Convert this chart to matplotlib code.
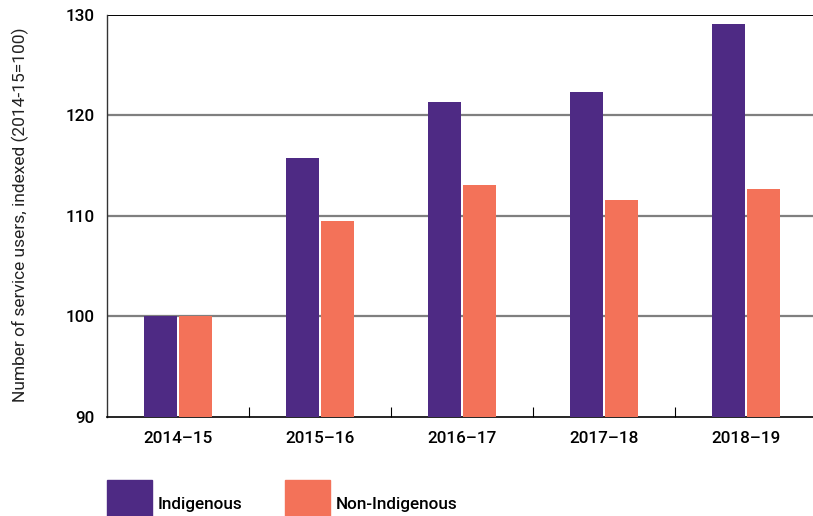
import matplotlib.pyplot as plt
import numpy as np
from matplotlib.patches import Rectangle

# Data
years = ["2014–15", "2015–16", "2016–17", "2017–18", "2018–19"]
indigenous = [100.0, 115.8, 121.3, 122.3, 129.1]
non_indigenous = [100.0, 109.5, 113.1, 111.6, 112.7]
y_ticks = [90, 100, 110, 120, 130]

PURPLE = "#4E2A84"
ORANGE = "#F37259"

plt.rcParams['font.family'] = ['Roboto', 'DejaVu Sans']

fig = plt.figure(figsize=(8.13, 5.16), dpi=100)
W, H = 813, 516
ax = fig.add_axes([107 / W, (H - 417) / H, 710 / W, 402 / H])

x = np.arange(len(years))
width = 0.23
off = 0.123
ax.bar(x - off, indigenous, width, color=PURPLE, zorder=3)
ax.bar(x + off, non_indigenous, width, color=ORANGE, zorder=3)

ax.set_xlim(-0.5, len(years) - 0.5)
ax.set_ylim(90, 130)

# gridlines
for t in y_ticks[1:-1]:
    ax.axhline(t, color="#7f7f7f", lw=1.6, zorder=1)
ax.axhline(130, color="black", lw=1.4, zorder=1)

for s in ["top", "right"]:
    ax.spines[s].set_visible(False)
ax.spines["left"].set_color("#333333")
ax.spines["left"].set_linewidth(1.0)
ax.spines["bottom"].set_linewidth(1.2)

ax.set_yticks(y_ticks)
ax.set_yticklabels([str(t) for t in y_ticks], fontsize=12.3, fontweight="medium")
ax.tick_params(axis="y", length=0, pad=9)

ax.set_xticks(x)
ax.set_xticklabels(years, fontsize=12.3, fontweight="medium")
ax.tick_params(axis="x", which="major", length=0, pad=10)
ax.set_xticks(np.arange(0.5, len(years) - 0.5, 1), minor=True)
ax.tick_params(axis="x", which="minor", direction="in", length=7, width=0.8)

fig.text(20 / W, (H - 215) / H, "Number of service users, indexed (2014-15=100)",
         rotation=90, ha="center", va="center", fontsize=12.5, fontweight="normal",
         color="#222222")

# legend
def legend_item(x0, label, color):
    fig.patches.append(Rectangle((x0 / W, 0), 45 / W, 36 / H, transform=fig.transFigure,
                                 color=color, figure=fig))
    fig.text((x0 + 51) / W, (H - 505) / H, label, fontsize=12.3, fontweight="medium",
             va="center", ha="left")

legend_item(107, "Indigenous", PURPLE)
legend_item(285, "Non-Indigenous", ORANGE)

fig.savefig("out.png", dpi=100)
